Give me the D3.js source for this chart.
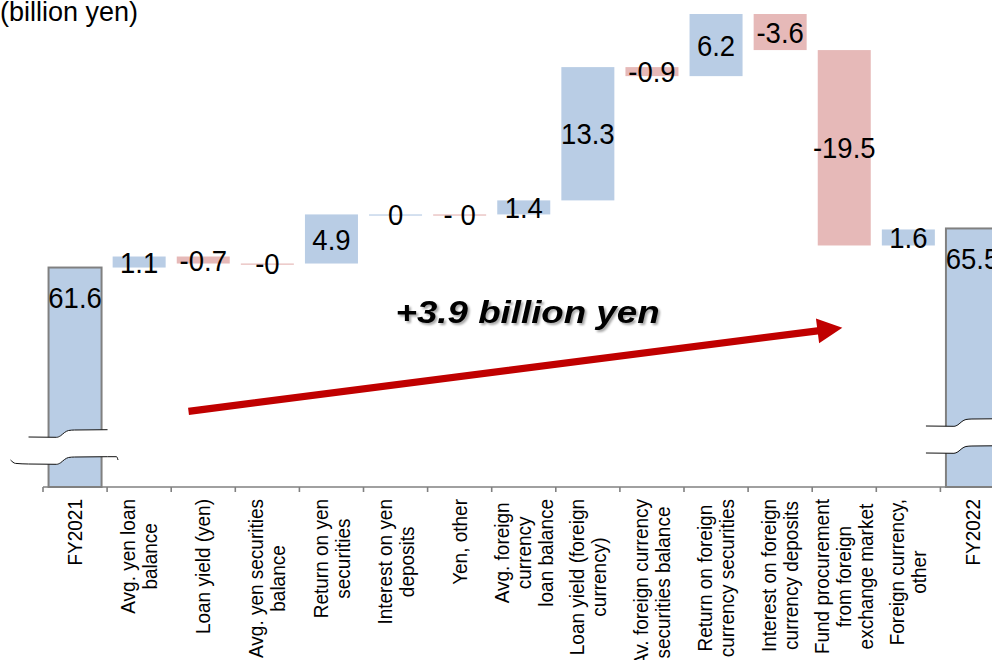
<!DOCTYPE html>
<html>
<head>
<meta charset="utf-8">
<script src="https://cdn.jsdelivr.net/npm/d3@7"></script>
<style>
  html, body { margin: 0; padding: 0; background: #fff; overflow: hidden; }
  svg { display: block; font-family: "Liberation Sans", Arial, Helvetica, sans-serif; }
</style>
</head>
<body>
<svg id="chart" width="992" height="660"></svg>
<script>
// Net interest income bridge, FY2021 -> FY2022 (billion yen)
const categories = [
  "FY2021",
  "Avg. yen loan\nbalance",
  "Loan yield (yen)",
  "Avg. yen securities\nbalance",
  "Return on yen\nsecurities",
  "Interest on yen\ndeposits",
  "Yen, other",
  "Avg. foreign\ncurrency\nloan balance",
  "Loan yield (foreign\ncurrency)",
  "Av. foreign currency\nsecurities balance",
  "Return on foreign\ncurrency securities",
  "Interest on foreign\ncurrency deposits",
  "Fund procurement\nfrom foreign\nexchange market",
  "Foreign currency,\nother",
  "FY2022"
];
const kinds  = ["total","delta","delta","delta","delta","delta","delta","delta",
                "delta","delta","delta","delta","delta","delta","total"];
const values = [61.6, 1.1, -0.7, -0, 4.9, 0, -0, 1.4, 13.3, -0.9, 6.2, -3.6, -19.5, 1.6, 65.5];
const valueLabels = ["61.6","1.1","-0.7","-0","4.9","0","- 0","1.4","13.3","-0.9","6.2","-3.6","-19.5","1.6","65.5"];
const unitLabel = "(billion yen)";
const changeLabel = "+3.9 billion yen";
const axisFloor = 39.7;   // value at the (broken) category axis

// ---- waterfall geometry --------------------------------------------------
let running = 0;
const steps = values.map((v, i) => {
  let start, end;
  if (kinds[i] === "total") { start = axisFloor; end = v; running = v; }
  else { start = running; end = running + v; running = end; }
  const negative = v < 0 || Object.is(v, -0);
  return { i, v, start, end, kind: kinds[i], negative, label: valueLabels[i] };
});

const svg = d3.select("#chart");
const axisY = 487;
const x0 = 43, step = 64.1;

const x = d3.scaleBand()
  .domain(d3.range(categories.length))
  .range([x0, x0 + step * categories.length])
  .paddingInner(0.173)
  .paddingOuter(0.0865);
const bw = x.bandwidth();

const y = d3.scaleLinear()
  .domain([axisFloor, d3.max(steps, d => Math.max(d.start, d.end))])
  .range([axisY, 14]);

const BLUE = "#B9CDE5", RED = "#E6B9B8", GREY = "#808080";

const defs = svg.append("defs");
const shadow = defs.append("filter").attr("id", "soft-shadow")
  .attr("x", "-10%").attr("y", "-30%").attr("width", "120%").attr("height", "160%");
shadow.append("feDropShadow").attr("dx", 2).attr("dy", 2).attr("stdDeviation", 1.2)
  .attr("flood-color", "#000").attr("flood-opacity", 0.35);

// ---- bars ----------------------------------------------------------------
const bars = svg.append("g");
bars.selectAll("rect.delta")
  .data(steps.filter(d => d.kind === "delta"))
  .join("rect")
  .attr("class", "delta")
  .attr("x", d => x(d.i))
  .attr("width", bw)
  .attr("y", d => y(Math.max(d.start, d.end)))
  .attr("height", d => Math.max(Math.abs(y(d.start) - y(d.end)), 1.2))
  .attr("fill", d => d.negative ? RED : BLUE);

bars.selectAll("rect.total")
  .data(steps.filter(d => d.kind === "total"))
  .join("rect")
  .attr("class", "total")
  .attr("x", d => x(d.i))
  .attr("width", bw)
  .attr("y", d => y(d.end))
  .attr("height", d => y(axisFloor) - y(d.end))
  .attr("fill", BLUE)
  .attr("stroke", GREY)
  .attr("stroke-width", 2);

// ---- axis break marks over the total bars ---------------------------------
const breakLift = { 0: 50, 14: 61 };    // px above the axis, per total bar
const lowerReach = { 0: 38, 14: 20 };   // how far the lower stroke runs left of the bar
const breakGap = 27;
const waveShape = [[-20, 0], [8, 0.3], [12, -1.2], [16, -4.5], [20, -6.5], [26, -7], [59, -7.3]];
const curve = d3.line().curve(d3.curveMonotoneX);
steps.filter(d => d.kind === "total").forEach(d => {
  const bl = x(d.i);
  const yU = axisY - breakLift[d.i];
  const upper = waveShape.map(([dx, dy]) => [bl + dx, yU + dy]);
  const clipId = "clip-break-" + d.i;
  defs.append("clipPath").attr("id", clipId)
    .append("rect").attr("x", bl - 2).attr("y", 0).attr("width", bw + 4).attr("height", 660);
  svg.append("path")
    .attr("clip-path", `url(#${clipId})`)
    .attr("d", d3.area().curve(d3.curveMonotoneX)
      .x(p => p[0]).y0(p => p[1]).y1(p => p[1] + breakGap)(
        [[bl - 25, yU], ...upper, [bl + bw + 25, yU - 7.3]]))
    .attr("fill", "#fff");
  svg.append("path").attr("d", curve(upper))
    .attr("fill", "none").attr("stroke", "#111").attr("stroke-width", 1);
  const reach = lowerReach[d.i];
  const lowerHead = reach > 20
    ? [[bl - reach, yU + breakGap - 4], [bl - reach + 5, yU + breakGap - 0.6]]
    : [];
  const lower = [...lowerHead,
    ...waveShape.map(([dx, dy]) => [bl + dx, yU + breakGap + dy]),
    [bl + 68, yU + breakGap - 7.3], [bl + 69.5, yU + breakGap - 4]];
  svg.append("path").attr("d", curve(lower))
    .attr("fill", "none").attr("stroke", "#111").attr("stroke-width", 1);
});

// ---- category axis --------------------------------------------------------
const axis = svg.append("g").attr("stroke", GREY).attr("stroke-width", 1.6);
axis.append("line")
  .attr("x1", x.range()[0]).attr("x2", x.range()[1])
  .attr("y1", axisY).attr("y2", axisY);
axis.selectAll("line.tick")
  .data(d3.range(categories.length + 1))
  .join("line")
  .attr("class", "tick")
  .attr("x1", i => x.range()[0] + i * x.step())
  .attr("x2", i => x.range()[0] + i * x.step())
  .attr("y1", axisY).attr("y2", axisY + 5);

// rotated, top-aligned category labels with centred lines
const labelTop = 499, lineGap = 22;
categories.forEach((cat, i) => {
  const lines = cat.split("\n");
  const g = svg.append("g")
    .attr("transform", `translate(${x(i) + bw / 2},${labelTop}) rotate(-90) scale(1,1.06)`);
  const texts = lines.map((ln, k) => g.append("text")
    .attr("y", (k - (lines.length - 1) / 2) * lineGap / 1.06)
    .attr("dy", "0.35em")
    .attr("text-anchor", "middle")
    .attr("font-size", 19)
    .attr("fill", "#000")
    .text(ln));
  const longest = d3.max(texts, t => t.node().getComputedTextLength());
  texts.forEach(t => t.attr("x", -longest / 2));
});

// ---- value labels ---------------------------------------------------------
svg.append("g").selectAll("text")
  .data(steps)
  .join("text")
  .attr("transform", d => {
    const cx = x(d.i) + bw / 2;
    const cy = d.kind === "total" ? y(d.end) + 30 : (y(d.start) + y(d.end)) / 2;
    return `translate(${cx},${cy}) scale(1,1.1)`;
  })
  .attr("dy", "0.35em")
  .attr("text-anchor", "middle")
  .attr("font-size", 27.5)
  .attr("fill", "#000")
  .text(d => d.label);

// ---- unit caption ---------------------------------------------------------
svg.append("text")
  .attr("x", 0).attr("y", 21)
  .attr("font-size", 27)
  .attr("fill", "#000")
  .text(unitLabel);

// ---- overall change arrow ---------------------------------------------------
const p0 = [x.range()[0] + 2.27 * x.step(), y(47.25)];
const p1 = [x.range()[0] + 12.47 * x.step(), y(55.6)];
const len = Math.hypot(p1[0] - p0[0], p1[1] - p0[1]);
const ux = (p1[0] - p0[0]) / len, uy = (p1[1] - p0[1]) / len;
const nx = -uy, ny = ux;
const shaftHalf = 3.6, headHalf = 12.5, headLen = 25;
const base = [p1[0] - ux * headLen, p1[1] - uy * headLen];
const pt = (p, s) => [p[0] + nx * s, p[1] + ny * s];
svg.append("path")
  .attr("d", d3.line()([
    pt(p0, shaftHalf), pt(base, shaftHalf), pt(base, headHalf), p1,
    pt(base, -headHalf), pt(base, -shaftHalf), pt(p0, -shaftHalf)
  ]) + "Z")
  .attr("fill", "#C00000");

svg.append("text")
  .attr("x", x.range()[0] + 5.5 * x.step())
  .attr("y", y(56.07))
  .attr("font-size", 32)
  .attr("font-weight", "bold")
  .attr("font-style", "italic")
  .attr("textLength", 264)
  .attr("lengthAdjust", "spacingAndGlyphs")
  .attr("fill", "#000")
  .attr("filter", "url(#soft-shadow)")
  .text(changeLabel);
</script>
</body>
</html>
